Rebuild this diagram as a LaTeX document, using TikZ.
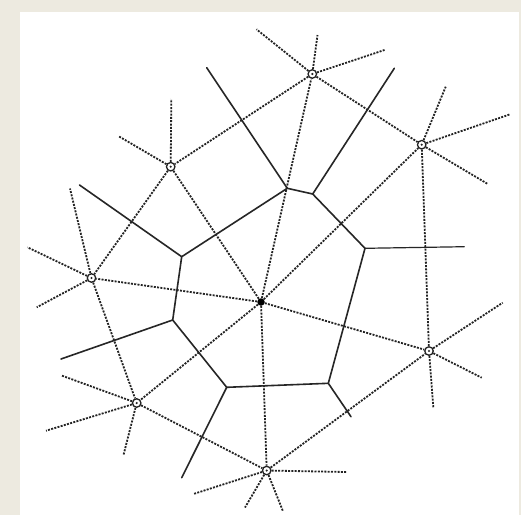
\documentclass[tikz,border=0pt]{standalone}
\definecolor{paper}{RGB}{237,234,224}
\definecolor{ink}{RGB}{35,35,35}
\begin{document}
\begin{tikzpicture}[x=1pt,y=-1pt,
  site/.style={circle,draw=ink,line width=1.3pt,minimum size=8.5pt,inner sep=0pt,
    path picture={\fill[ink] (path picture bounding box.center) circle (1.2pt);}},
  centre/.style={circle,fill=black,minimum size=7.5pt,inner sep=0pt},
  dual/.style={draw=ink,line width=1.8pt,dash pattern=on 2pt off 1.3pt},
  cell/.style={draw=black!85,line width=1.6pt,line cap=round,line join=round}]
\useasboundingbox (0,0) rectangle (521,515);
\fill[paper] (0,0) rectangle (521,515);
\fill[white] (20,12) rectangle (519,515);
% sites
\node[centre] (C) at (261,302) {};
\node[site] (T) at (312.3,74) {};
\node[site] (UL) at (170.7,166.7) {};
\node[site] (UR) at (421.7,144.7) {};
\node[site] (L) at (91.5,278) {};
\node[site] (R) at (429,351) {};
\node[site] (LL) at (136.7,403) {};
\node[site] (B) at (266.7,470.5) {};
% spoke ends
\coordinate (t1) at (256.5,29.3);
\coordinate (t2) at (317.5,35);
\coordinate (t3) at (384.5,50);
\coordinate (ul1) at (171.3,99);
\coordinate (ul2) at (118.3,136);
\coordinate (ur1) at (445.7,86.7);
\coordinate (ur2) at (509.5,114.5);
\coordinate (ur3) at (488.3,184.3);
\coordinate (l1) at (70,188.5);
\coordinate (l2) at (27.5,247.3);
\coordinate (l3) at (36.7,307.3);
\coordinate (r1) at (502.7,302.7);
\coordinate (r2) at (481.7,377.7);
\coordinate (r3) at (433.3,407.5);
\coordinate (ll1) at (61,375.3);
\coordinate (ll2) at (46,430.7);
\coordinate (ll3) at (123.5,455);
\coordinate (b1) at (346.5,472);
\coordinate (b2) at (193.3,494);
\coordinate (b3) at (245,507.5);
\coordinate (b4) at (282.8,510.8);
% Voronoi vertices and free ends
\coordinate (V1) at (287.3,188.3);
\coordinate (V2) at (312.7,194);
\coordinate (V3) at (365,248.3);
\coordinate (V4) at (181.7,256.7);
\coordinate (V5) at (172.7,320);
\coordinate (V6) at (226.7,387.3);
\coordinate (V7) at (328.3,383.3);
\coordinate (w1) at (206.7,67.7);
\coordinate (w2) at (394.3,68.3);
\coordinate (w3) at (464.3,246.7);
\coordinate (w4) at (351,416.7);
\coordinate (w5) at (181.7,477.7);
\coordinate (w6) at (61,359);
\coordinate (w7) at (79.5,185);
% Delaunay edges (dotted)
\foreach \s in {T,UL,UR,L,R,LL,B} \draw[dual] (C) -- (\s);
\draw[dual] (T) -- (UL);
\draw[dual] (T) -- (UR);
\draw[dual] (UL) -- (L);
\draw[dual] (UR) -- (R);
\draw[dual] (L) -- (LL);
\draw[dual] (LL) -- (B);
\draw[dual] (B) -- (R);
% spokes
\foreach \e in {t1,t2,t3} \draw[dual] (T) -- (\e);
\foreach \e in {ul1,ul2} \draw[dual] (UL) -- (\e);
\foreach \e in {ur1,ur2,ur3} \draw[dual] (UR) -- (\e);
\foreach \e in {l1,l2,l3} \draw[dual] (L) -- (\e);
\foreach \e in {r1,r2,r3} \draw[dual] (R) -- (\e);
\foreach \e in {ll1,ll2,ll3} \draw[dual] (LL) -- (\e);
\foreach \e in {b1,b2,b3,b4} \draw[dual] (B) -- (\e);
% Voronoi cell edges (solid)
\draw[cell] (V1) -- (V2) -- (V3) -- (V7) -- (V6) -- (V5) -- (V4) -- cycle;
\draw[cell] (V1) -- (w1);
\draw[cell] (V2) -- (w2);
\draw[cell,line width=1.2pt] (V3) -- (w3);
\draw[cell] (V7) -- (w4);
\draw[cell] (V6) -- (w5);
\draw[cell] (V5) -- (w6);
\draw[cell] (V4) -- (w7);
\end{tikzpicture}
\end{document}
